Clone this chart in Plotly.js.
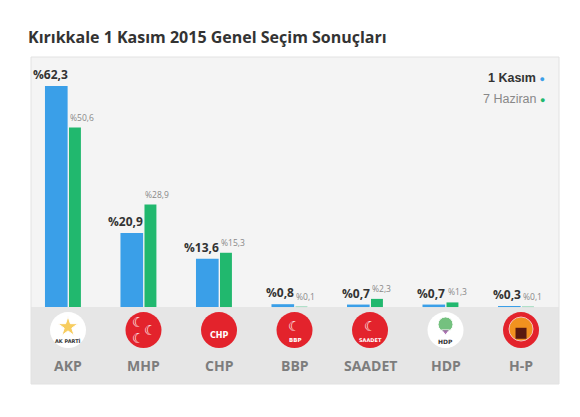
<!DOCTYPE html>
<html>
<head>
<meta charset="utf-8">
<script src="https://cdn.plot.ly/plotly-3.0.1.min.js"></script>
<style>
  html, body { margin: 0; padding: 0; background: #fff; }
  #chart { width: 580px; height: 417px; }
</style>
</head>
<body>
<div id="chart"></div>
<script>
// ── Data ──────────────────────────────────────────────────────────────────────
const parties   = ['AKP', 'MHP', 'CHP', 'BBP', 'SAADET', 'HDP', 'H-P'];
const kasim     = [62.3, 20.9, 13.6, 0.8, 0.7, 0.7, 0.3];   // 1 Kasım
const haziran   = [50.6, 28.9, 15.3, 0.1, 2.3, 1.3, 0.1];   // 7 Haziran
const logoFill  = ['#ffffff', '#e3232c', '#e3232c', '#e3232c', '#e3232c', '#ffffff', '#e3232c'];
const logoText  = ['AK PARTİ', '', 'CHP', 'BBP', 'SAADET', 'HDP', ''];

// ── Style ─────────────────────────────────────────────────────────────────────
const BLUE  = '#3a9fe8';
const GREEN = '#21b86e';
const BLUE_OFF = -0.305, BLUE_W = 0.3;
const GREEN_OFF = 0.013, GREEN_W = 0.158;
const Y_MIN = -21.7, Y_MAX = 70.5;   // below zero = grey logo band
const LOGO_Y = -6.5;
const NAME_Y = -16.6;

const idx = parties.map((_, i) => i);
const fmt = v => '%' + v.toFixed(1).replace('.', ',');
const OPEN = "'Open Sans', sans-serif";
const DEJAVU = "'DejaVu Sans', sans-serif";

const traces = [
  {
    type: 'bar', x: idx, y: kasim, name: '1 Kasım',
    offset: BLUE_OFF, width: BLUE_W,
    marker: { color: BLUE }, hoverinfo: 'skip', showlegend: false,
  },
  {
    type: 'bar', x: idx, y: haziran, name: '7 Haziran',
    offset: GREEN_OFF, width: GREEN_W,
    marker: { color: GREEN }, hoverinfo: 'skip', showlegend: false,
  },
  // party logo discs
  {
    type: 'scatter', mode: 'markers', x: idx, y: idx.map(() => LOGO_Y),
    marker: { size: 36, color: logoFill, line: { width: 0 } },
    hoverinfo: 'skip', showlegend: false,
  },
  // inner details (AKP bulb, HDP tree + trunk, H-P sun)
  {
    type: 'scatter', mode: 'markers',
    x: [0, 5, 5, 6], y: [LOGO_Y + 0.9, LOGO_Y + 1.6, LOGO_Y - 0.4, LOGO_Y + 0.3],
    marker: { size: [15, 15, 7, 24], color: ['#f5b81c', '#3aa84a', '#8e3c96', '#f7c21a'],
              symbol: ['star', 'circle', 'triangle-down', 'circle'] },
    hoverinfo: 'skip', showlegend: false,
  },
  {
    type: 'scatter', mode: 'markers',
    x: [6], y: [LOGO_Y - 0.9],
    marker: { size: 11, color: '#5a1a10', symbol: 'square' },
    hoverinfo: 'skip', showlegend: false,
  },
];

const annotations = [];
kasim.forEach((v, i) => annotations.push({
  x: i + BLUE_OFF + BLUE_W, y: v, xref: 'x', yref: 'y',
  xanchor: 'right', yanchor: 'bottom', yshift: 1, xshift: 2,
  text: fmt(v), showarrow: false,
  font: { family: OPEN, size: 12, color: '#333', weight: 700 },
}));
haziran.forEach((v, i) => annotations.push({
  x: i + GREEN_OFF, y: v, xref: 'x', yref: 'y',
  xanchor: 'left', yanchor: 'bottom', yshift: 3, xshift: -1,
  text: fmt(v), showarrow: false,
  font: { family: OPEN, size: 8.5, color: '#888' },
}));
// party names
parties.forEach((p, i) => annotations.push({
  x: i, y: NAME_Y, xref: 'x', yref: 'y', showarrow: false,
  text: '<b>' + p + '</b>',
  font: { family: OPEN, size: 14, color: '#7d7d7d' },
}));
// text inside the logos
logoText.forEach((t, i) => {
  if (!t) return;
  const dark = logoFill[i] === '#ffffff';
  const small = t.length > 3;
  annotations.push({
    x: i, y: LOGO_Y, xref: 'x', yref: 'y', showarrow: false, text: '<b>' + t + '</b>',
    yshift: dark ? -11 : (t === 'CHP' ? -5 : -10),
    font: { family: DEJAVU, size: small ? 5 : (dark ? 6 : (t === 'CHP' ? 8 : 5.5)),
            color: dark ? '#333' : '#fff' },
  });
});
// MHP crescents
[[-0.07, 2.3], [-0.07, -2.3], [0.09, 0]].forEach(([dx, dy]) => annotations.push({
  x: 1 + dx, y: LOGO_Y + dy, xref: 'x', yref: 'y', showarrow: false,
  text: '☾', font: { family: DEJAVU, size: 14, color: '#fff' },
}));
// BBP / SAADET crescent marks
[3, 4].forEach(i => annotations.push({
  x: i, y: LOGO_Y, xref: 'x', yref: 'y', showarrow: false, yshift: 4,
  text: '☾', font: { family: DEJAVU, size: 14, color: '#fff' },
}));
// legend (text left of the dot)
annotations.push(
  { xref: 'paper', yref: 'paper', x: 0.978, y: 1 - 21 / 327, xanchor: 'right', yanchor: 'middle',
    showarrow: false,
    text: '<b>1 Kasım</b> <span style="color:' + BLUE + ';font-size:9px">●</span>',
    font: { family: "'Liberation Sans', Arial, sans-serif", size: 12.5, color: '#333' } },
  { xref: 'paper', yref: 'paper', x: 0.978, y: 1 - 42 / 327, xanchor: 'right', yanchor: 'middle',
    showarrow: false,
    text: '7 Haziran <span style="color:' + GREEN + ';font-size:9px">●</span>',
    font: { family: "'Liberation Sans', Arial, sans-serif", size: 12.5, color: '#888' } },
);

const layout = {
  width: 580, height: 417,
  margin: { l: 31, r: 21, t: 57, b: 33 },
  paper_bgcolor: '#ffffff',
  plot_bgcolor: '#f4f4f4',
  barmode: 'overlay',
  title: {
    text: 'Kırıkkale 1 Kasım 2015 Genel Seçim Sonuçları',
    xref: 'container', yref: 'container', x: 28 / 580, y: 1 - 37 / 417,
    xanchor: 'left', yanchor: 'middle',
    font: { family: OPEN, size: 16, color: '#333', weight: 700 },
  },
  xaxis: {
    range: [-0.49, 6.503], fixedrange: true,
    showgrid: false, zeroline: false, showline: false, showticklabels: false, ticks: '',
  },
  yaxis: {
    range: [Y_MIN, Y_MAX], fixedrange: true,
    showgrid: false, zeroline: false, showline: false, showticklabels: false, ticks: '',
  },
  shapes: [
    { type: 'rect', xref: 'paper', yref: 'y', x0: 0, x1: 1, y0: Y_MIN, y1: 0,
      fillcolor: '#e6e6e6', line: { width: 0 }, layer: 'below' },
    { type: 'rect', xref: 'paper', yref: 'paper', x0: 0, x1: 1, y0: 0, y1: 1,
      fillcolor: 'rgba(0,0,0,0)', line: { color: '#e2e2e2', width: 1 } },
  ],
  annotations,
};

Plotly.newPlot('chart', traces, layout, { staticPlot: true, displayModeBar: false });
</script>
</body>
</html>
